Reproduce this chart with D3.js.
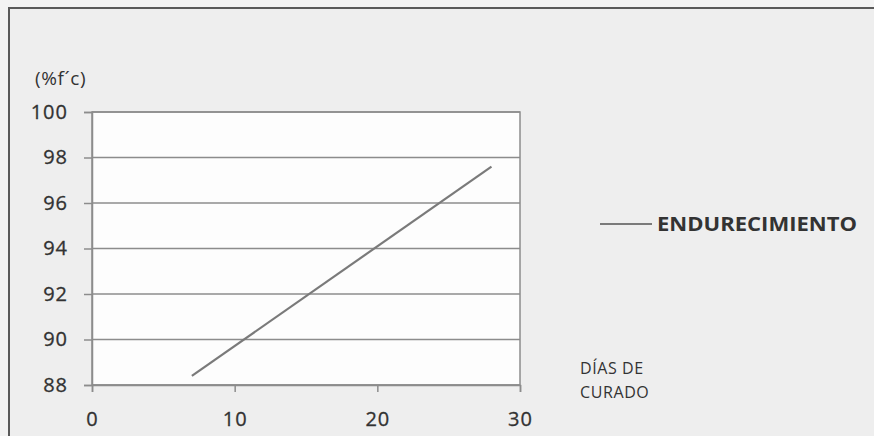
<!DOCTYPE html>
<html>
<head>
<meta charset="utf-8">
<script src="https://cdn.jsdelivr.net/npm/d3@7"></script>
<style>
  html, body { margin: 0; padding: 0; background: #f1f1f1; }
  svg { display: block; }
  text { font-family: "Open Sans", "Noto Sans", sans-serif; fill: #333; }
</style>
</head>
<body>
<svg id="chart" width="874" height="436"></svg>
<script>
// Curing days and percentage of f'c reached
const dias = [7, 28];
const resistencia = [88.4, 97.6];
const serieNombre = "ENDURECIMIENTO";
const xTicks = [0, 10, 20, 30];
const yTicks = [88, 90, 92, 94, 96, 98, 100];
const yTitulo = "(%f´c)";
const xTitulo = ["DÍAS DE", "CURADO"];

const svg = d3.select("#chart");
const W = 874, H = 436;

// chart frame
svg.append("rect").attr("x", 0).attr("y", 0).attr("width", W).attr("height", H).attr("fill", "#f3f3f3");
svg.append("rect").attr("x", 9).attr("y", 8).attr("width", W + 20).attr("height", H + 20)
  .attr("fill", "#eeeeee").attr("stroke", "#5a5a5a").attr("stroke-width", 2);

const plot = { left: 92, right: 520, top: 112, bottom: 385 };

const x = d3.scaleLinear().domain([0, 30]).range([plot.left, plot.right]);
const y = d3.scaleLinear().domain([88, 100]).range([plot.bottom, plot.top]);

// plot area
svg.append("rect").attr("x", plot.left).attr("y", plot.top)
  .attr("width", plot.right - plot.left).attr("height", plot.bottom - plot.top)
  .attr("fill", "#fdfdfd").attr("stroke", "#8c8c8c").attr("stroke-width", 1.5);

// horizontal gridlines
svg.append("g").selectAll("line").data(yTicks).join("line")
  .attr("x1", plot.left).attr("x2", plot.right)
  .attr("y1", d => y(d)).attr("y2", d => y(d))
  .attr("stroke", "#8c8c8c").attr("stroke-width", 1.5);

function styleAxis(g) {
  g.select(".domain").attr("stroke", "#8c8c8c").attr("stroke-width", 1.5);
  g.selectAll(".tick line").attr("stroke", "#8c8c8c").attr("stroke-width", 1.5);
  g.selectAll(".tick text").attr("font-size", 20).attr("fill", "#2f2f2f")
    .attr("stroke", "#2f2f2f").attr("stroke-width", 0.3)
    .style("font-family", "'Open Sans', sans-serif").style("letter-spacing", "1px");
}

// y axis
svg.append("g").attr("transform", `translate(${plot.left},0)`)
  .call(d3.axisLeft(y).tickValues(yTicks).tickSize(8).tickPadding(16).tickFormat(d3.format("d")))
  .call(styleAxis);

// x axis
svg.append("g").attr("transform", `translate(0,${plot.bottom})`)
  .call(d3.axisBottom(x).tickValues(xTicks).tickSize(7).tickPadding(20).tickFormat(d3.format("d")))
  .call(styleAxis);

// series line
const pts = dias.map((d, i) => [d, resistencia[i]]);
svg.append("path").datum(pts)
  .attr("fill", "none").attr("stroke", "#7a7a7a").attr("stroke-width", 2.2)
  .attr("d", d3.line().x(d => x(d[0])).y(d => y(d[1])));

// axis titles
svg.append("text").attr("x", 35).attr("y", 85).attr("font-size", 19).attr("fill", "#2f2f2f")
  .style("letter-spacing", "0.6px").text(yTitulo);
svg.append("g").selectAll("text").data(xTitulo).join("text")
  .attr("x", 580).attr("y", (d, i) => 374 + i * 24).attr("font-size", 16).attr("fill", "#3a3a3a")
  .style("letter-spacing", "0.6px").text(d => d);

// legend
svg.append("line").attr("x1", 600).attr("x2", 652).attr("y1", 224).attr("y2", 224)
  .attr("stroke", "#7a7a7a").attr("stroke-width", 2.2);
svg.append("text").attr("x", 657).attr("y", 231).attr("font-size", 19).attr("font-weight", "bold")
  .attr("fill", "#333")
  .attr("textLength", 200).attr("lengthAdjust", "spacingAndGlyphs").text(serieNombre);
</script>
</body>
</html>
